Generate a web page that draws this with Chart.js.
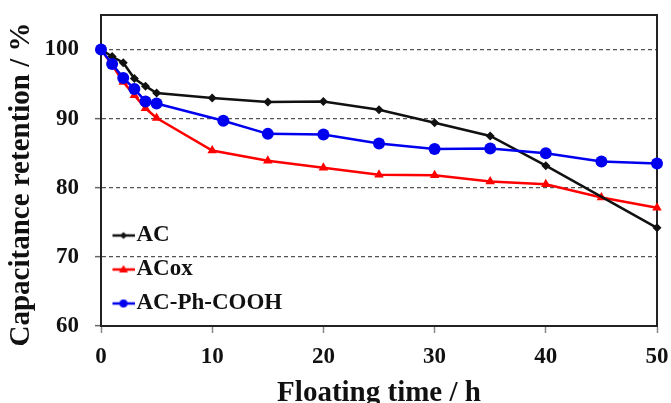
<!DOCTYPE html>
<html><head><meta charset="utf-8">
<script src="https://cdn.jsdelivr.net/npm/chart.js@4.4.1/dist/chart.umd.min.js"></script>
<style>html,body{margin:0;padding:0;background:#fff;overflow:hidden;width:671px;height:403px}canvas{display:block}</style>
</head><body>
<canvas id="c" width="671" height="412"></canvas>
<script>
const seriesNames = ['AC', 'ACox', 'AC-Ph-COOH'];
const timeAC = [0, 1, 2, 3, 4, 5, 10, 15, 20, 25, 30, 35, 40, 50];
const retentionAC = [100, 99.0, 98.1, 95.8, 94.7, 93.7, 93.0, 92.4, 92.5, 91.3, 89.4, 87.5, 83.2, 74.2];
const timeACox = [0, 1, 2, 3, 4, 5, 10, 15, 20, 25, 30, 35, 40, 45, 50];
const retentionACox = [100, 97.8, 95.3, 93.4, 91.5, 90.1, 85.4, 83.9, 82.9, 81.9, 81.8, 80.9, 80.5, 78.6, 77.1];
const timePh = [0, 1, 2, 3, 4, 5, 11, 15, 20, 25, 30, 35, 40, 45, 50];
const retentionPh = [100, 97.9, 95.9, 94.3, 92.5, 92.2, 89.7, 87.8, 87.7, 86.4, 85.6, 85.7, 85.0, 83.8, 83.5];
const xTicks = [0, 10, 20, 30, 40, 50];
const yTicks = [60, 70, 80, 90, 100];

const colors = ['#111111', '#ff0000', '#0000ee'];
const FONT = 'Liberation Serif, Times New Roman, serif';

function pairs(xs, ys) { return xs.map((x, i) => ({ x: x, y: ys[i] })); }

function legendSample(color, kind) {
  const c = document.createElement('canvas');
  c.width = 32; c.height = 14;
  const g = c.getContext('2d');
  g.strokeStyle = color; g.fillStyle = color; g.lineWidth = 2.5;
  g.beginPath(); g.moveTo(10, 7); g.lineTo(32, 7); g.stroke();
  g.beginPath();
  if (kind === 'd') { g.moveTo(21, 3.5); g.lineTo(24.5, 7); g.lineTo(21, 10.5); g.lineTo(17.5, 7); g.closePath(); }
  else if (kind === 't') { g.moveTo(21, 2.5); g.lineTo(25.5, 10); g.lineTo(16.5, 10); g.closePath(); }
  else { g.arc(21, 7, 4, 0, Math.PI * 2); }
  g.fill();
  return c;
}
const legendImgs = [legendSample(colors[0], 'd'), legendSample(colors[1], 't'), legendSample(colors[2], 'c')];

const framePlugin = {
  id: 'frame',
  afterLayout(chart) {
    // keep the in-plot legend inside the chart area
    const lg = chart.legend, a = chart.chartArea;
    if (lg) { lg.top = a.top; lg.bottom = a.bottom; }
  },
  beforeDatasetsDraw(chart) {
    const { ctx, chartArea: a } = chart;
    ctx.save();
    ctx.strokeStyle = '#222'; ctx.lineWidth = 2;
    ctx.strokeRect(a.left, a.top, a.right - a.left, a.bottom - a.top);
    ctx.restore();
  }
};

function noPad(s) { s.paddingTop = 0; s.paddingBottom = 0; s.paddingLeft = 0; s.paddingRight = 0; }

new Chart(document.getElementById('c'), {
  type: 'line',
  data: {
    datasets: [
      { label: seriesNames[0], data: pairs(timeAC, retentionAC), borderColor: colors[0], backgroundColor: colors[0],
        borderWidth: 2.5, pointStyle: 'rectRot', pointRadius: 4.5, pointBorderWidth: 0, order: 1, clip: false },
      { label: seriesNames[1], data: pairs(timeACox, retentionACox), borderColor: colors[1], backgroundColor: colors[1],
        borderWidth: 2.5, pointStyle: 'triangle', pointRadius: 5.5, pointBorderWidth: 0, order: 2, clip: false },
      { label: seriesNames[2], data: pairs(timePh, retentionPh), borderColor: colors[2], backgroundColor: colors[2],
        borderWidth: 2.5, pointStyle: 'circle', pointRadius: 6, pointBorderWidth: 0, order: 0, clip: false }
    ]
  },
  options: {
    responsive: false,
    animation: false,
    devicePixelRatio: 1,
    layout: { padding: { top: 15, right: 14, left: 0, bottom: 0 } },
    elements: { line: { tension: 0, fill: false } },
    scales: {
      x: {
        type: 'linear', min: 0, max: 50,
        afterBuildTicks: s => { s.ticks = xTicks.map(v => ({ value: v })); },
        afterFit: s => { s.height = 86; noPad(s); },
        grid: { drawOnChartArea: false, drawTicks: true, tickLength: 7, tickColor: '#888', tickWidth: 1.5 },
        border: { display: true, color: '#222', width: 2 },
        ticks: { font: { family: FONT, size: 23, weight: 'bold' }, color: '#111', padding: 10, maxRotation: 0, autoSkip: false },
        title: { display: true, text: 'Floating time / h', color: '#111',
                 font: { family: FONT, size: 29, weight: 'bold' }, padding: { top: 0, bottom: 1 } }
      },
      y: {
        type: 'linear', min: 60, max: 105,
        afterBuildTicks: s => { s.ticks = yTicks.map(v => ({ value: v })); },
        afterFit: s => {
          s.width = 101; noPad(s);
          if (!s._titleShifted) {
            const orig = s.drawTitle;
            s.drawTitle = function () {
              const ctx = this.ctx; ctx.save(); ctx.translate(0, 14); orig.apply(this, arguments); ctx.restore();
            };
            s._titleShifted = true;
          }
        },
        grid: { drawOnChartArea: true, color: '#555', lineWidth: 1.3, drawTicks: true, tickLength: 6,
                tickColor: '#666', tickWidth: 1.5, tickBorderDash: [] },
        border: { display: true, color: '#222', width: 2, dash: [4, 3] },
        ticks: { font: { family: FONT, size: 23, weight: 'bold' }, color: '#111', padding: 16, autoSkip: false },
        title: { display: true, text: 'Capacitance retention / %', color: '#111',
                 font: { family: FONT, size: 29, weight: 'bold' }, padding: { top: 4.6, bottom: 0 } }
      }
    },
    plugins: {
      tooltip: { enabled: false },
      legend: {
        position: 'chartArea', align: 'end',
        labels: {
          usePointStyle: true, pointStyleWidth: 13, padding: 11,
          font: { family: FONT, size: 23, weight: 'bold' }, color: '#111',
          generateLabels: chart => seriesNames.map((n, i) => ({
            text: n, pointStyle: legendImgs[i], fillStyle: colors[i], strokeStyle: colors[i],
            lineWidth: 0, hidden: false, datasetIndex: i, fontColor: '#111'
          }))
        }
      }
    }
  },
  plugins: [framePlugin]
});
</script>
</body></html>
